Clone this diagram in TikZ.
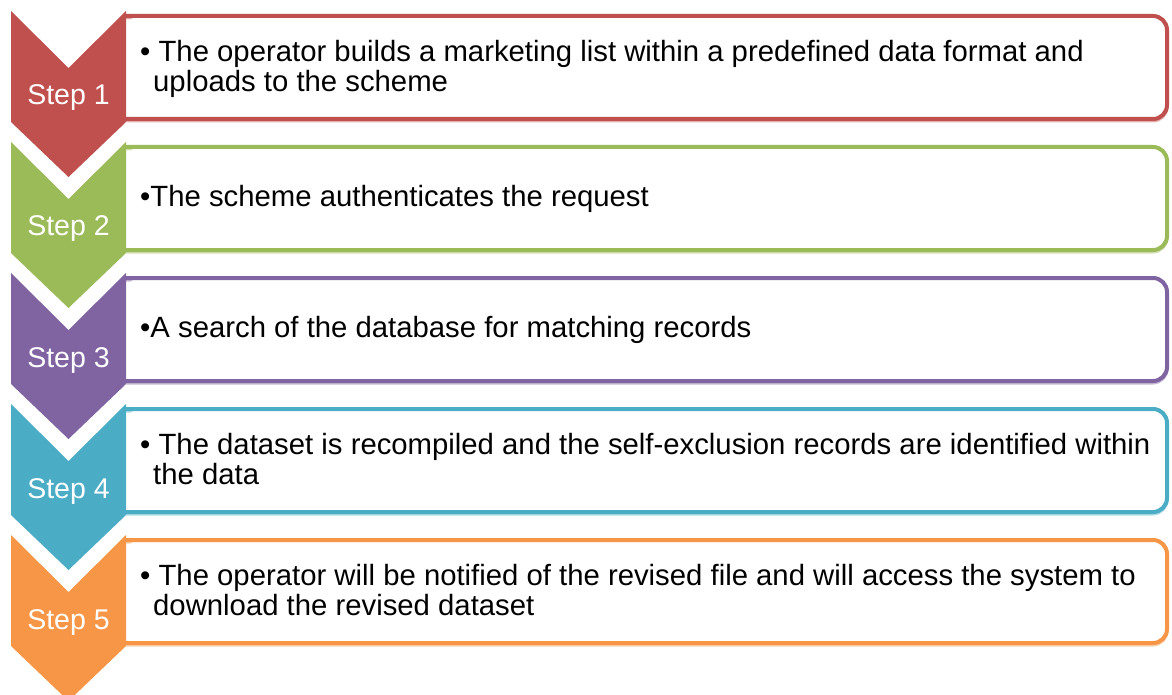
\documentclass[tikz,border=0pt]{standalone}
\usepackage{fontspec}
\setmainfont{Liberation Sans}
\definecolor{cA}{HTML}{C0504D}
\definecolor{cB}{HTML}{9BBB59}
\definecolor{cC}{HTML}{8064A2}
\definecolor{cD}{HTML}{4BACC6}
\definecolor{cE}{HTML}{F79646}
\newcommand{\topstrut}{\rule{0pt}{26pt}}
\begin{document}
\begin{tikzpicture}[x=1pt,y=-1pt,
  boxline/.style={line width=4pt, rounded corners=14pt},
  steplabel/.style={text=white, font=\fontsize{28.5}{30}\selectfont, anchor=base, inner sep=0pt},
  bodytext/.style={text=black, font=\fontsize{29.3}{30}\selectfont, anchor=north west, align=left, inner sep=0pt}]
\useasboundingbox (0,0) rectangle (1172,695);
\foreach \k/\c/\n in {0/cA/1,1/cB/2,2/cC/3,3/cD/4,4/cE/5}{
  \pgfmathsetmacro{\t}{11+131*\k}
  \pgfmathsetmacro{\rt}{16+131*\k}
  \pgfmathsetmacro{\rb}{119+131*\k}
  % shadow
  \draw[line width=3pt, rounded corners=14pt, draw=\c!45] (126,\rt+2) -- (1167,\rt+2) -- (1167,\rb+2) -- (126,\rb+2);
  % box
  \path[fill=white] (126,\rt) -- (1167,\rt) [rounded corners=14pt] -- (1167,\rb) -- (126,\rb) -- cycle;
  \draw[boxline, draw=\c] (126,\rt) -- (1167,\rt) -- (1167,\rb) -- (126,\rb);
  % chevron
  \fill[\c] (11,\t) -- (68.5,\t+57) -- (126,\t) -- (126,\t+111) -- (68.5,\t+166) -- (11,\t+111) -- cycle;
  \node[steplabel] (s\n) at (68.5,\t+94) {Step \n};
}
\node[bodytext] (b1) at (140,61-26) {\topstrut• The operator builds a marketing list within a predefined data format and\\\hspace*{13pt}uploads to the scheme};
\node[bodytext] (b2) at (140,206-26) {\topstrut•The scheme authenticates the request};
\node[bodytext] (b3) at (140,337-26) {\topstrut•A search of the database for matching records};
\node[bodytext] (b4) at (140,454-26) {\topstrut• The dataset is recompiled and the self-exclusion records are identified within\\\hspace*{13pt}the data};
\node[bodytext] (b5) at (140,585-26) {\topstrut• The operator will be notified of the revised file and will access the system to\\\hspace*{13pt}download the revised dataset};
\end{tikzpicture}
\end{document}
